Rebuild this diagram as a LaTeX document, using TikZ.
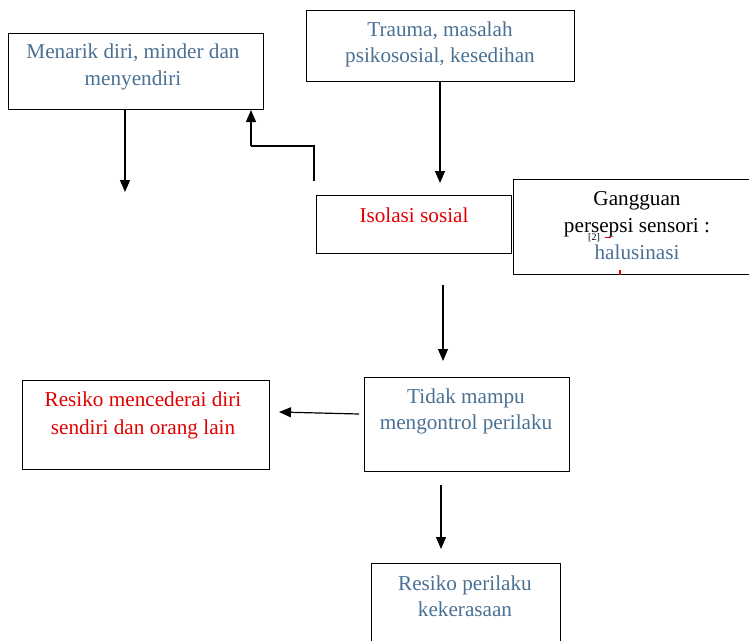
\documentclass[tikz,border=0pt]{standalone}
\usepackage{fontspec}
\setmainfont{Liberation Serif}
\newfontfamily\tnr{Liberation Serif}
\usetikzlibrary{arrows.meta}
\definecolor{bluetext}{HTML}{4A7093}
\definecolor{redtext}{HTML}{E00000}
\tikzset{
  box/.style={draw=black, line width=0.9pt, rectangle, inner sep=0pt},
  lbl/.style={font=\tnr\fontsize{21.2}{27}\selectfont, align=center, inner sep=0pt, anchor=base},
  arr/.style={line width=1.2pt, -{Triangle[length=12pt,width=10pt]}},
}
\begin{document}
\begin{tikzpicture}[x=1pt,y=-1pt]
\useasboundingbox (0,0) rectangle (749,640);
% boxes
\node[box, minimum width=255pt, minimum height=76pt] (A) at (135.5,71) {};
\node[box, minimum width=268pt, minimum height=71pt] (B) at (440,45.5) {};
\node[box, minimum width=195pt, minimum height=58pt] (C) at (413.5,224) {};
\node[box, minimum width=205pt, minimum height=94pt] (E) at (466.5,424) {};
\node[box, minimum width=247pt, minimum height=89pt] (F) at (145.5,424.5) {};
% open boxes cut by the page edge
\coordinate (D1) at (749,179); \coordinate (D2) at (513,179);
\coordinate (D3) at (513,274); \coordinate (D4) at (749,274);
\draw[line width=0.9pt] (D1) -- (D2) -- (D3) -- (D4);
\coordinate (G1) at (371,641); \coordinate (G2) at (371,563);
\coordinate (G3) at (560,563); \coordinate (G4) at (560,641);
\draw[line width=0.9pt] (G1) -- (G2) -- (G3) -- (G4);
% texts
\node[lbl, text=bluetext] (tA1) at (133,58) {Menarik diri, minder dan};
\node[lbl, text=bluetext] (tA2) at (133,85) {menyendiri};
\node[lbl, text=bluetext] (tB1) at (440,36) {Trauma, masalah};
\node[lbl, text=bluetext] (tB2) at (440,62) {psikososial, kesedihan};
\node[lbl, text=redtext] (tC) at (414,222) {Isolasi sosial};
\node[lbl, text=black] (tD1) at (637,205) {Gangguan};
\node[lbl, text=black] (tD2) at (637,232) {persepsi sensori :};
\node[lbl, text=bluetext] (tD3) at (637,259) {halusinasi};
\node[font=\tnr\fontsize{10}{11}\selectfont, inner sep=0pt] (m2) at (594,238) {[2]};
\coordinate (r1) at (605,237); \coordinate (r2) at (611,237);
\draw[redtext, line width=1pt] (r1) -- (r2);
\coordinate (r3) at (620,270); \coordinate (r4) at (620,275);
\draw[redtext, line width=1.2pt] (r3) -- (r4);
\node[lbl, text=bluetext] (tE1) at (466,403) {Tidak mampu};
\node[lbl, text=bluetext] (tE2) at (466,429) {mengontrol perilaku};
\node[lbl, text=redtext] (tF1) at (143,406) {Resiko mencederai diri};
\node[lbl, text=redtext] (tF2) at (143,434) {sendiri dan orang lain};
\node[lbl, text=bluetext] (tG1) at (465,590) {Resiko perilaku};
\node[lbl, text=bluetext] (tG2) at (465,616) {kekerasaan};
% connectors
\coordinate (a1) at (125,192);
\draw[arr] (A.south -| a1) -- (a1);
\coordinate (b1) at (440,183);
\draw[arr] (B.south) -- (b1);
\coordinate (c1) at (314,181); \coordinate (c2) at (314,146);
\coordinate (c3) at (251,146); \coordinate (c4) at (251,110);
\draw[line width=1.2pt] (c1) -- (c2) -- (c3);
\draw[arr] (c3) -- (c4);
\coordinate (d0) at (443,285); \coordinate (d1) at (443,361);
\draw[arr] (d0) -- (d1);
\coordinate (e0) at (359,414); \coordinate (e1) at (279,412);
\draw[arr] (e0) -- (e1);
\coordinate (f0) at (441,485); \coordinate (f1) at (441,549);
\draw[arr] (f0) -- (f1);
\end{tikzpicture}
\end{document}
